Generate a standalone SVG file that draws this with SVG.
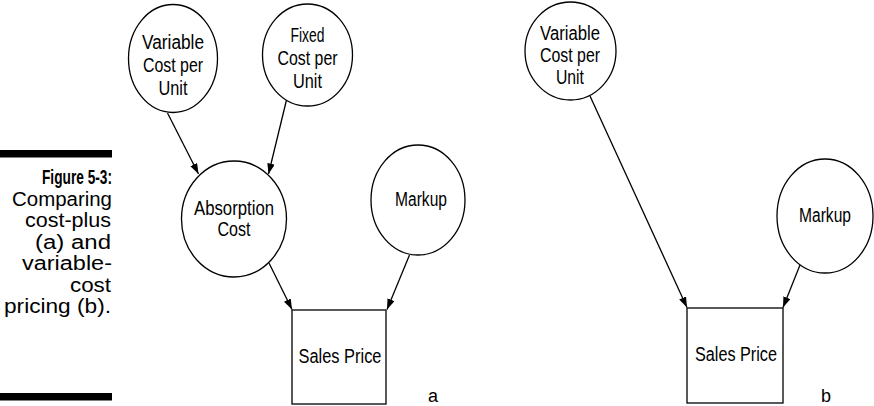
<svg xmlns="http://www.w3.org/2000/svg" width="874" height="406" viewBox="0 0 874 406">
<defs>
<marker id="arr" markerUnits="userSpaceOnUse" markerWidth="11" markerHeight="8" refX="10.5" refY="3.75" orient="auto">
<path d="M0,0 L10.5,3.75 L0,7.5 z" fill="#000"/>
</marker>
<style>
.n{fill:#fff;stroke:#000;stroke-width:1.3}
.t{font-family:"Liberation Sans",Arial,sans-serif;font-size:20px;fill:#000;text-anchor:middle}
.cap{font-family:"Liberation Sans",Arial,sans-serif;font-size:19.5px;fill:#000;text-anchor:end}
.c{stroke:#000;stroke-width:1.3;fill:none;marker-end:url(#arr)}
</style>
</defs>
<rect width="874" height="406" fill="#fff"/>
<g id="caption">
<rect x="0" y="150" width="112" height="7.5" fill="#000"/>
<text class="cap" x="112" y="184" font-weight="bold" textLength="70" lengthAdjust="spacingAndGlyphs">Figure 5-3:</text>
<text class="cap" x="112" y="205.5" textLength="100" lengthAdjust="spacingAndGlyphs">Comparing</text>
<text class="cap" x="111" y="227" textLength="86" lengthAdjust="spacingAndGlyphs">cost-plus</text>
<text class="cap" x="111" y="248.5" textLength="76" lengthAdjust="spacingAndGlyphs">(a) and</text>
<text class="cap" x="112" y="270" textLength="90" lengthAdjust="spacingAndGlyphs">variable-</text>
<text class="cap" x="111" y="291.5" textLength="41" lengthAdjust="spacingAndGlyphs">cost</text>
<text class="cap" x="111" y="313" textLength="107" lengthAdjust="spacingAndGlyphs">pricing (b).</text>
<rect x="0" y="393" width="112" height="7.5" fill="#000"/>
</g>
<g id="connectors">
<line class="c" x1="167.5" y1="113" x2="198.5" y2="174"/>
<line class="c" x1="286.5" y1="100" x2="268.5" y2="174"/>
<line class="c" x1="269" y1="263" x2="292" y2="309.5"/>
<line class="c" x1="409.5" y1="255" x2="387" y2="309.5"/>
<line class="c" x1="590" y1="96" x2="687" y2="307.5"/>
<line class="c" x1="800" y1="265" x2="783" y2="307.5"/>
</g>
<g id="var-a">
<ellipse class="n" cx="173" cy="58.5" rx="44.5" ry="54"/>
<text class="t" x="173" y="49" textLength="62" lengthAdjust="spacingAndGlyphs">Variable</text>
<text class="t" x="173" y="72" textLength="60" lengthAdjust="spacingAndGlyphs">Cost per</text>
<text class="t" x="173" y="95" textLength="29" lengthAdjust="spacingAndGlyphs">Unit</text>
</g>
<g id="fixed-a">
<ellipse class="n" cx="307.5" cy="55" rx="45" ry="51"/>
<text class="t" x="307.5" y="42" textLength="34" lengthAdjust="spacingAndGlyphs">Fixed</text>
<text class="t" x="307.5" y="65" textLength="60" lengthAdjust="spacingAndGlyphs">Cost per</text>
<text class="t" x="307.5" y="88" textLength="29" lengthAdjust="spacingAndGlyphs">Unit</text>
</g>
<g id="absorption-a">
<ellipse class="n" cx="234" cy="219" rx="52.5" ry="58"/>
<text class="t" x="234" y="215" textLength="80" lengthAdjust="spacingAndGlyphs">Absorption</text>
<text class="t" x="234" y="236" textLength="33" lengthAdjust="spacingAndGlyphs">Cost</text>
</g>
<g id="markup-a">
<ellipse class="n" cx="418" cy="200" rx="47" ry="55"/>
<text class="t" x="421" y="206" textLength="52" lengthAdjust="spacingAndGlyphs">Markup</text>
</g>
<g id="sales-a">
<rect class="n" x="292" y="310" width="94" height="94"/>
<text class="t" x="340" y="363" textLength="83" lengthAdjust="spacingAndGlyphs">Sales Price</text>
</g>
<text class="t" x="433" y="402" style="font-size:18px">a</text>
<g id="var-b">
<ellipse class="n" cx="570.5" cy="51" rx="45.5" ry="49"/>
<text class="t" x="570" y="40" textLength="60" lengthAdjust="spacingAndGlyphs">Variable</text>
<text class="t" x="570" y="62" textLength="60" lengthAdjust="spacingAndGlyphs">Cost per</text>
<text class="t" x="570" y="84" textLength="28" lengthAdjust="spacingAndGlyphs">Unit</text>
</g>
<g id="markup-b">
<ellipse class="n" cx="825" cy="216" rx="48" ry="57"/>
<text class="t" x="825" y="222" textLength="52" lengthAdjust="spacingAndGlyphs">Markup</text>
</g>
<g id="sales-b">
<rect class="n" x="687" y="308" width="96" height="95"/>
<text class="t" x="736" y="361" textLength="82" lengthAdjust="spacingAndGlyphs">Sales Price</text>
</g>
<text class="t" x="826" y="402" style="font-size:18px">b</text>
</svg>
